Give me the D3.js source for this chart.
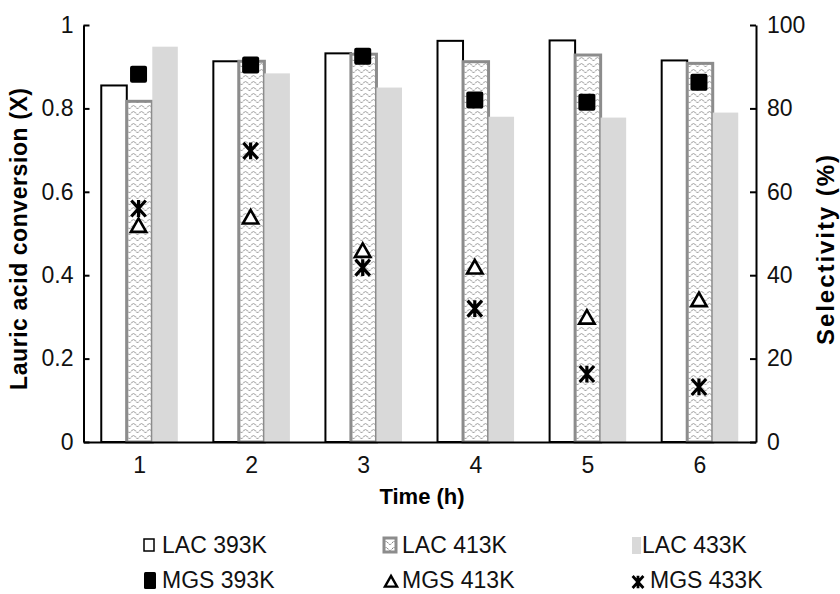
<!DOCTYPE html>
<html>
<head>
<meta charset="utf-8">
<script src="https://cdn.jsdelivr.net/npm/d3@7"></script>
<style>
  body { margin: 0; background: #fff; }
  svg { font-family: "Liberation Sans", Arial, sans-serif; }
</style>
</head>
<body>
<div id="chart-area"></div>
<script>
// values
var categories = ["1", "2", "3", "4", "5", "6"];
var lac393 = [0.855, 0.913, 0.932, 0.962, 0.963, 0.915];
var lac413 = [0.817, 0.913, 0.930, 0.912, 0.928, 0.908];
var lac433 = [0.948, 0.884, 0.850, 0.780, 0.778, 0.790];
var mgs393 = [88.2, 90.4, 92.5, 82.0, 81.5, 86.3];
var mgs413 = [51.8, 53.8, 45.8, 41.8, 29.8, 34.0];
var mgs433 = [56.0, 69.8, 41.8, 32.0, 16.3, 13.2];
var leftTicks = [0, 0.2, 0.4, 0.6, 0.8, 1];
var rightTicks = [0, 20, 40, 60, 80, 100];
var barNames = ["LAC 393K", "LAC 413K", "LAC 433K"];
var markerNames = ["MGS 393K", "MGS 413K", "MGS 433K"];

var W = 840, H = 594;
var margin = {left: 83.5, right: 84, top: 25, bottom: 152};
var w = W - margin.left - margin.right;
var h = H - margin.top - margin.bottom;

var svg = d3.select("#chart-area").append("svg")
    .attr("width", W)
    .attr("height", H);

// wavy fill of the 413K bars
var defs = svg.append("defs");
var pat = defs.append("pattern")
    .attr("id", "wave")
    .attr("patternUnits", "userSpaceOnUse")
    .attr("width", 8)
    .attr("height", 6);
pat.append("rect").attr("width", 8).attr("height", 6).attr("fill", "#fff");
pat.append("path")
    .attr("d", "M0,4 Q2,1 4,4 T8,4")
    .attr("fill", "none")
    .attr("stroke", "#5a5a5a")
    .attr("stroke-width", 1)
    .attr("stroke-dasharray", "1.2,0.8");

var g = svg.append("g").attr("transform", "translate(" + margin.left + "," + margin.top + ")");

var x0 = d3.scaleBand().domain(categories).range([0, w]).paddingInner(0.317).paddingOuter(0.1585);
var x1 = d3.scaleBand().domain(barNames).range([0, x0.bandwidth()]);
var yL = d3.scaleLinear().domain([0, 1]).range([h, 0]);
var yR = d3.scaleLinear().domain([0, 100]).range([h, 0]);

var barSeries = [
    {name: barNames[0], values: lac393, fill: "#fff", stroke: "#000", sw: 2},
    {name: barNames[1], values: lac413, fill: "url(#wave)", stroke: "#8c8c8c", sw: 3},
    {name: barNames[2], values: lac433, fill: "#d9d9d9", stroke: "none", sw: 0}
];

barSeries.forEach(function(s) {
    g.selectAll(null)
        .data(s.values)
        .enter()
        .append("rect")
        .attr("x", function(d, i) { return x0(categories[i]) + x1(s.name); })
        .attr("y", function(d) { return yL(d); })
        .attr("width", x1.bandwidth())
        .attr("height", function(d) { return h - yL(d); })
        .attr("fill", s.fill)
        .attr("stroke", s.stroke)
        .attr("stroke-width", s.sw);
});

// markers sit on the middle bar
function mx(i) { return x0(categories[i]) + x1(barNames[1]) + x1.bandwidth() / 2 - 1; }

var sq = 17;
g.selectAll(".m393")
    .data(mgs393)
    .enter()
    .append("rect")
    .attr("x", function(d, i) { return mx(i) - sq / 2; })
    .attr("y", function(d) { return yR(d) - sq / 2; })
    .attr("width", sq)
    .attr("height", sq)
    .attr("rx", 2)
    .attr("fill", "#000");

function triPath(s) {
    return "M0," + (-s * 0.55) + "L" + (s * 0.55) + "," + (s * 0.42) + "L" + (-s * 0.55) + "," + (s * 0.42) + "Z";
}
function starPath(s) {
    var a = s / 2;
    return "M" + (-a * 0.9) + "," + (-a) + "L" + (a * 0.9) + "," + a +
        "M" + (a * 0.9) + "," + (-a) + "L" + (-a * 0.9) + "," + a +
        "M0," + (-a * 1.05) + "L0," + (a * 1.05);
}

g.selectAll(".m413")
    .data(mgs413)
    .enter()
    .append("path")
    .attr("transform", function(d, i) { return "translate(" + mx(i) + "," + yR(d) + ")"; })
    .attr("d", triPath(14))
    .attr("fill", "#fff")
    .attr("stroke", "#000")
    .attr("stroke-width", 2.6)
    .attr("stroke-linejoin", "miter");

g.selectAll(".m433")
    .data(mgs433)
    .enter()
    .append("path")
    .attr("transform", function(d, i) { return "translate(" + mx(i) + "," + yR(d) + ")"; })
    .attr("d", starPath(16))
    .attr("fill", "none")
    .attr("stroke", "#000")
    .attr("stroke-width", 3.2);

// axes
var fmt = d3.format("~g");
var axL = g.append("g")
    .call(d3.axisLeft(yL).tickValues(leftTicks).tickFormat(fmt).tickSizeInner(-6).tickSizeOuter(0).tickPadding(10));
var axR = g.append("g")
    .attr("transform", "translate(" + w + ",0)")
    .call(d3.axisRight(yR).tickValues(rightTicks).tickSizeInner(-6).tickSizeOuter(0).tickPadding(11));
var axB = g.append("g")
    .attr("transform", "translate(0," + h + ")")
    .call(d3.axisBottom(x0).tickSize(0).tickPadding(10));

[axL, axR, axB].forEach(function(ax) {
    ax.selectAll("path, line").attr("stroke", "#000").attr("stroke-width", 2);
    ax.selectAll("text").attr("font-size", 23).attr("fill", "#111").attr("font-family", null);
});
axB.selectAll("text").attr("dy", "0.9em");

// titles
svg.append("text")
    .attr("transform", "translate(27,239) rotate(-90)")
    .attr("text-anchor", "middle")
    .attr("font-size", 23)
    .attr("font-weight", "bold")
    .attr("textLength", 302)
    .text("Lauric acid conversion (X)");

svg.append("text")
    .attr("transform", "translate(834,250) rotate(-90)")
    .attr("text-anchor", "middle")
    .attr("font-size", 24)
    .attr("font-weight", "bold")
    .attr("textLength", 190)
    .text("Selectivity (%)");

svg.append("text")
    .attr("x", 422)
    .attr("y", 504)
    .attr("text-anchor", "middle")
    .attr("font-size", 22)
    .attr("font-weight", "bold")
    .text("Time (h)");

// legend
var colX = [144, 384, 632];
var rowY = [545, 580];
var leg = svg.append("g");

barSeries.forEach(function(s, i) {
    var lg = leg.append("g").attr("transform", "translate(" + colX[i] + "," + rowY[0] + ")");
    if (i === 0) {
        lg.append("rect").attr("x", 0).attr("y", -6).attr("width", 10).attr("height", 12)
            .attr("fill", "#fff").attr("stroke", "#000").attr("stroke-width", 1.5);
    } else if (i === 1) {
        lg.append("rect").attr("x", 0).attr("y", -7).attr("width", 12).attr("height", 14)
            .attr("fill", "url(#wave)").attr("stroke", "#8c8c8c").attr("stroke-width", 3);
    } else {
        lg.append("rect").attr("x", 0).attr("y", -8).attr("width", 9).attr("height", 17)
            .attr("fill", "#d9d9d9");
    }
    lg.append("text").attr("x", i === 2 ? 10 : 18).attr("dy", "0.36em")
        .attr("font-size", 23).attr("fill", "#111").text(s.name);
});

markerNames.forEach(function(name, i) {
    var lg = leg.append("g").attr("transform", "translate(" + colX[i] + "," + rowY[1] + ")");
    if (i === 0) {
        lg.append("rect").attr("x", 0).attr("y", -8).attr("width", 12).attr("height", 17)
            .attr("rx", 1.5).attr("fill", "#000");
    } else if (i === 1) {
        lg.append("path").attr("transform", "translate(7,2)").attr("d", triPath(11))
            .attr("fill", "#fff").attr("stroke", "#000").attr("stroke-width", 2.4);
    } else {
        lg.append("path").attr("transform", "translate(6,2)").attr("d", starPath(12))
            .attr("fill", "none").attr("stroke", "#000").attr("stroke-width", 2.8);
    }
    lg.append("text").attr("x", 18).attr("dy", "0.36em")
        .attr("font-size", 23).attr("fill", "#111").text(name);
});
</script>
</body>
</html>
